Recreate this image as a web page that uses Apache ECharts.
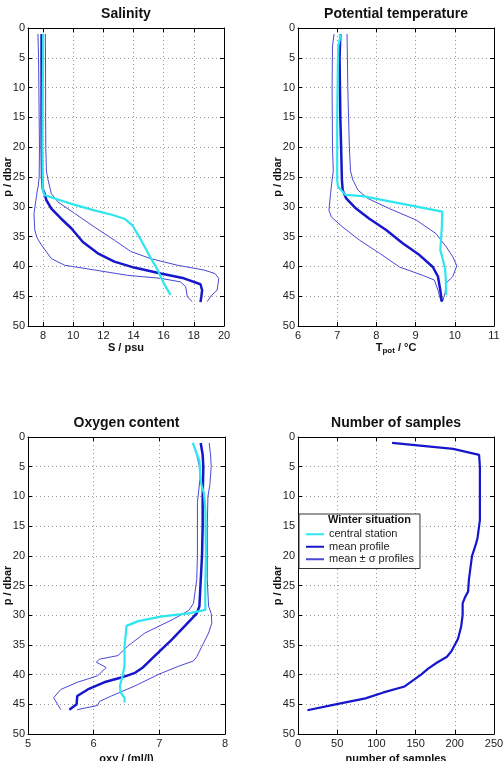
<!DOCTYPE html>
<html>
<head>
<meta charset="utf-8">
<script src="https://cdn.jsdelivr.net/npm/echarts@6/dist/echarts.min.js"></script>
<style>
  html, body { margin: 0; padding: 0; background: #fff; }
  #chart { width: 503px; height: 761px; }
</style>
</head>
<body>
<div id="chart"></div>
<script>
// tick labels
const pTicks = [0, 5, 10, 15, 20, 25, 30, 35, 40, 45, 50];
const salTicks = [8, 10, 12, 14, 16, 18, 20];
const tempTicks = [6, 7, 8, 9, 10, 11];
const oxyTicks = [5, 6, 7, 8];
const sampleTicks = [0, 50, 100, 150, 200, 250];

// salinity profiles [S, p]
const salCentral = [[8.0,1],[8.0,5],[7.98,10],[7.97,15],[7.96,20],[7.97,25],[7.98,27],[8.07,28],[8.77,28.6],[10.0,29.6],[11.4,30.6],[12.5,31.3],[13.4,32],[13.93,33.1],[14.2,34.3],[14.5,35.6],[14.8,37],[15.1,38.4],[15.6,40.6],[16.0,42.8],[16.45,44.8]];
const salMean = [[7.9,1],[7.9,5],[7.9,10],[7.9,15],[7.91,20],[7.93,25],[7.98,27],[8.1,27.8],[8.22,28.9],[8.55,30.3],[9.2,32],[9.87,33.6],[10.64,35.9],[11.63,37.8],[12.73,39.2],[14.04,40.2],[15.8,41.2],[17.34,42],[18.44,43],[18.55,44],[18.5,45],[18.44,46]];
const salLow = [[7.66,1],[7.7,5],[7.72,10],[7.74,15],[7.76,20],[7.74,25],[7.68,26.5],[7.6,27.5],[7.56,28.3],[7.46,30],[7.4,31.1],[7.42,32.5],[7.45,33.9],[7.6,35.2],[7.89,36.4],[8.55,38.7],[9.43,39.8],[11.41,40.6],[13.6,41.5],[15.8,42],[17.12,42.6],[17.45,43.4],[17.52,44.3],[17.56,45.1],[17.89,45.9]];
const salHigh = [[8.15,1],[8.16,5],[8.17,10],[8.17,15],[8.18,20],[8.22,24],[8.33,25.5],[8.55,27.8],[8.99,29.2],[10.09,31.1],[11.41,33.4],[12.73,35.6],[13.82,37.5],[15.14,38.7],[16.9,39.8],[18.66,40.6],[19.4,41.2],[19.65,42],[19.6,43],[19.54,44],[19.2,44.8],[18.88,45.9]];

// potential temperature profiles [T, p]
const tempCentral = [[7.06,1],[7.08,1.5],[7.03,3],[7.02,5],[7.01,10],[7.0,15],[7.0,20],[7.0,25.5],[7.02,26.6],[7.21,28],[7.65,28.2],[9.68,30.8],[9.67,33.4],[9.63,37.3],[9.69,38.7],[9.75,40.3],[9.77,42],[9.78,44.8]];
const tempMean = [[7.08,1],[7.06,5],[7.07,10],[7.08,15],[7.1,20],[7.12,25.5],[7.14,27.2],[7.23,28.6],[7.48,30.3],[7.82,32],[8.25,33.9],[8.67,36.1],[9.1,38.1],[9.44,40.1],[9.57,41.7],[9.63,44],[9.67,45.9]];
const tempLow = [[6.92,1],[6.88,3],[6.87,10],[6.88,20],[6.9,24],[6.87,25.5],[6.83,27.8],[6.79,30.6],[6.85,31.7],[7.14,33.4],[7.57,35.6],[8.08,37.8],[8.59,40.1],[9.18,41.5],[9.48,42.3],[9.57,44],[9.65,45.9]];
const tempHigh = [[7.25,1],[7.26,5],[7.27,10],[7.29,15],[7.31,20],[7.34,24],[7.4,25.5],[7.53,27.2],[7.78,28.6],[8.33,30.3],[9.01,32.2],[9.52,34.5],[9.78,36.7],[9.95,38.4],[10.05,39.9],[9.95,41.7],[9.78,42.8],[9.75,44.5],[9.69,45.9]];

// oxygen profiles [oxy, p]
const oxyCentral = [[7.51,1],[7.56,2.5],[7.61,4],[7.62,6],[7.64,8],[7.68,9.5],[7.7,12],[7.71,20],[7.7,25],[7.7,29.1],[7.45,29.7],[7.04,30.2],[6.68,31],[6.5,31.8],[6.49,33],[6.47,35.2],[6.47,38.5],[6.44,40.2],[6.4,41.9],[6.41,43],[6.47,43.9],[6.47,44.7]];
const oxyMean = [[7.63,1],[7.66,3],[7.67,5],[7.66,10],[7.66,15],[7.65,20],[7.63,24.2],[7.61,28.5],[7.57,29.7],[7.39,31.8],[7.19,34.1],[7.01,36],[6.88,37.4],[6.75,38.8],[6.63,39.7],[6.42,40.5],[6.16,41.3],[5.91,42.5],[5.75,43.6],[5.74,45],[5.63,45.9]];
const oxyLow = [[7.51,1],[7.57,3],[7.61,5],[7.62,7],[7.6,9],[7.58,11],[7.58,20],[7.57,24],[7.52,28],[7.45,29.2],[7.19,30.8],[6.78,33],[6.52,35.2],[6.37,36.8],[6.09,37.4],[6.04,37.9],[6.19,38.8],[6.06,40.2],[5.75,41.3],[5.5,42.5],[5.39,43.9],[5.45,45],[5.5,45.9]];
const oxyHigh = [[7.76,1],[7.78,3],[7.79,5],[7.77,8],[7.74,10],[7.73,15],[7.73,20],[7.73,24],[7.75,28.5],[7.79,29.7],[7.8,31.3],[7.75,33],[7.65,35.2],[7.57,37],[7.52,37.7],[7.29,38.6],[6.98,40],[6.63,41.9],[6.27,43.6],[6.09,44.5],[6.06,45.2],[5.75,45.9]];

// number of samples [n, p]
const samples = [[120,1],[198,2],[231,3],[232,5],[232,10],[232,14],[231,15],[229,17],[227,18],[222,20],[220,22],[218,24],[217,26],[213,27],[210,28],[210,30],[208,32],[204,34],[196,36],[190,37],[177,38],[166,39],[157,40],[136,42],[109,43],[86,44],[48,45],[12,46]];

const font = "'Liberation Sans', Arial, Helvetica, sans-serif";
const cCentral = '#2ee6f0';
const cMean = '#1616cc';
const cSigma = '#4848d4';
const legendNames = ['central station', 'mean profile', 'mean \u00b1 \u03c3 profiles'];

const grids = [
  { left: 28, top: 28, width: 196, height: 298 },
  { left: 298, top: 28, width: 196, height: 298 },
  { left: 28, top: 437, width: 197, height: 297 },
  { left: 298, top: 437, width: 196, height: 297 }
].map(function (g) {
  return Object.assign({ containLabel: false, outerBoundsMode: 'none' }, g);
});

const nameStyle = { fontFamily: font, fontSize: 11, fontWeight: 'bold', color: '#111' };

function xAx(i, min, max, ticks, name, pos, gap) {
  return {
    type: 'value', gridIndex: i, min: min, max: max, position: pos,
    name: pos === 'bottom' ? name : '', nameLocation: 'middle', nameGap: gap || 16,
    nameTextStyle: nameStyle,
    axisLine: { show: true, onZero: false, lineStyle: { color: '#000', width: 1 } },
    axisTick: { show: true, inside: true, length: 4, customValues: ticks, lineStyle: { color: '#000' } },
    axisLabel: { show: pos === 'bottom', customValues: ticks, margin: 4, fontSize: 11, color: '#222', fontFamily: font },
    splitLine: { show: pos === 'bottom', lineStyle: { color: '#999', width: 1, type: [1, 3] } }
  };
}

function yAx(i, pos) {
  return {
    type: 'value', gridIndex: i, min: 0, max: 50, inverse: true, position: pos,
    name: pos === 'left' ? 'p / dbar' : '', nameLocation: 'middle', nameGap: 15,
    nameMoveOverlap: false,
    nameTextStyle: nameStyle,
    axisLine: { show: true, onZero: false, lineStyle: { color: '#000', width: 1 } },
    axisTick: { show: true, inside: true, length: 4, customValues: pTicks, lineStyle: { color: '#000' } },
    axisLabel: { show: pos === 'left', customValues: pTicks, margin: 3, fontSize: 11, color: '#222', fontFamily: font },
    splitLine: { show: pos === 'left', lineStyle: { color: '#999', width: 1, type: [1, 3] } }
  };
}

const tRich = {
  a: { fontFamily: font, fontSize: 11, fontWeight: 'bold', color: '#111', lineHeight: 13, verticalAlign: 'top' },
  s: { fontFamily: font, fontSize: 8, fontWeight: 'bold', color: '#111', lineHeight: 10, verticalAlign: 'bottom' }
};

const xAxes = [
  xAx(0, 7, 20, salTicks, 'S / psu', 'bottom'), xAx(0, 7, 20, salTicks, '', 'top'),
  xAx(1, 6, 11, tempTicks, '{a|T}{s|pot}{a| / \u00b0C}', 'bottom'), xAx(1, 6, 11, tempTicks, '', 'top'),
  xAx(2, 5, 8, oxyTicks, 'oxy / (ml/l)', 'bottom', 19), xAx(2, 5, 8, oxyTicks, '', 'top'),
  xAx(3, 0, 250, sampleTicks, 'number of samples', 'bottom', 19), xAx(3, 0, 250, sampleTicks, '', 'top')
];
xAxes[2].nameTextStyle = Object.assign({}, nameStyle, { rich: tRich });

const yAxes = [];
for (let i = 0; i < 4; i++) {
  yAxes.push(yAx(i, 'left'), yAx(i, 'right'));
}

function line(name, data, i, color, width, z) {
  return {
    name: name, type: 'line', xAxisIndex: 2 * i, yAxisIndex: 2 * i,
    data: data, symbol: 'none', showSymbol: false, smooth: false, z: z,
    lineStyle: { color: color, width: width }, itemStyle: { color: color },
    animation: false
  };
}

const series = [
  line(legendNames[2], salLow, 0, cSigma, 1, 2), line(legendNames[2], salHigh, 0, cSigma, 1, 2),
  line(legendNames[1], salMean, 0, cMean, 2.5, 3), line(legendNames[0], salCentral, 0, cCentral, 2.2, 4),
  line(legendNames[2], tempLow, 1, cSigma, 1, 2), line(legendNames[2], tempHigh, 1, cSigma, 1, 2),
  line(legendNames[1], tempMean, 1, cMean, 2.5, 3), line(legendNames[0], tempCentral, 1, cCentral, 2.2, 4),
  line(legendNames[2], oxyLow, 2, cSigma, 1, 2), line(legendNames[2], oxyHigh, 2, cSigma, 1, 2),
  line(legendNames[1], oxyMean, 2, cMean, 2.5, 3), line(legendNames[0], oxyCentral, 2, cCentral, 2.2, 4),
  line(legendNames[1], samples, 3, cMean, 2.2, 3)
];

const titles = ['Salinity', 'Potential temperature', 'Oxygen content', 'Number of samples'];
const titleEls = titles.map(function (t, i) {
  const g = grids[i];
  return {
    type: 'text', x: g.left + g.width / 2, y: g.top - 14,
    style: { text: t, textAlign: 'center', textVerticalAlign: 'middle', font: 'bold 14px ' + font, fill: '#111' }
  };
});

const chart = echarts.init(document.getElementById('chart'), null, { renderer: 'canvas' });
chart.setOption({
  backgroundColor: '#fff',
  animation: false,
  grid: grids,
  xAxis: xAxes,
  yAxis: yAxes,
  series: series,
  legend: {
    data: legendNames, orient: 'vertical', left: 299, top: 514,
    padding: [14, 6, 3, 6], itemGap: 0, itemWidth: 18, itemHeight: 12,
    backgroundColor: '#fff', borderColor: '#333', borderWidth: 1, borderRadius: 0,
    selectedMode: false, z: 10,
    itemStyle: { opacity: 0 },
    lineStyle: { opacity: 1 },
    textStyle: { fontFamily: font, fontSize: 11, color: '#222', lineHeight: 12.5 }
  },
  graphic: titleEls.concat([{
    type: 'text', x: 328, y: 520, z: 100,
    style: { text: 'Winter situation', textAlign: 'left', textVerticalAlign: 'middle', font: 'bold 11px ' + font, fill: '#111' }
  }])
});
</script>
</body>
</html>
